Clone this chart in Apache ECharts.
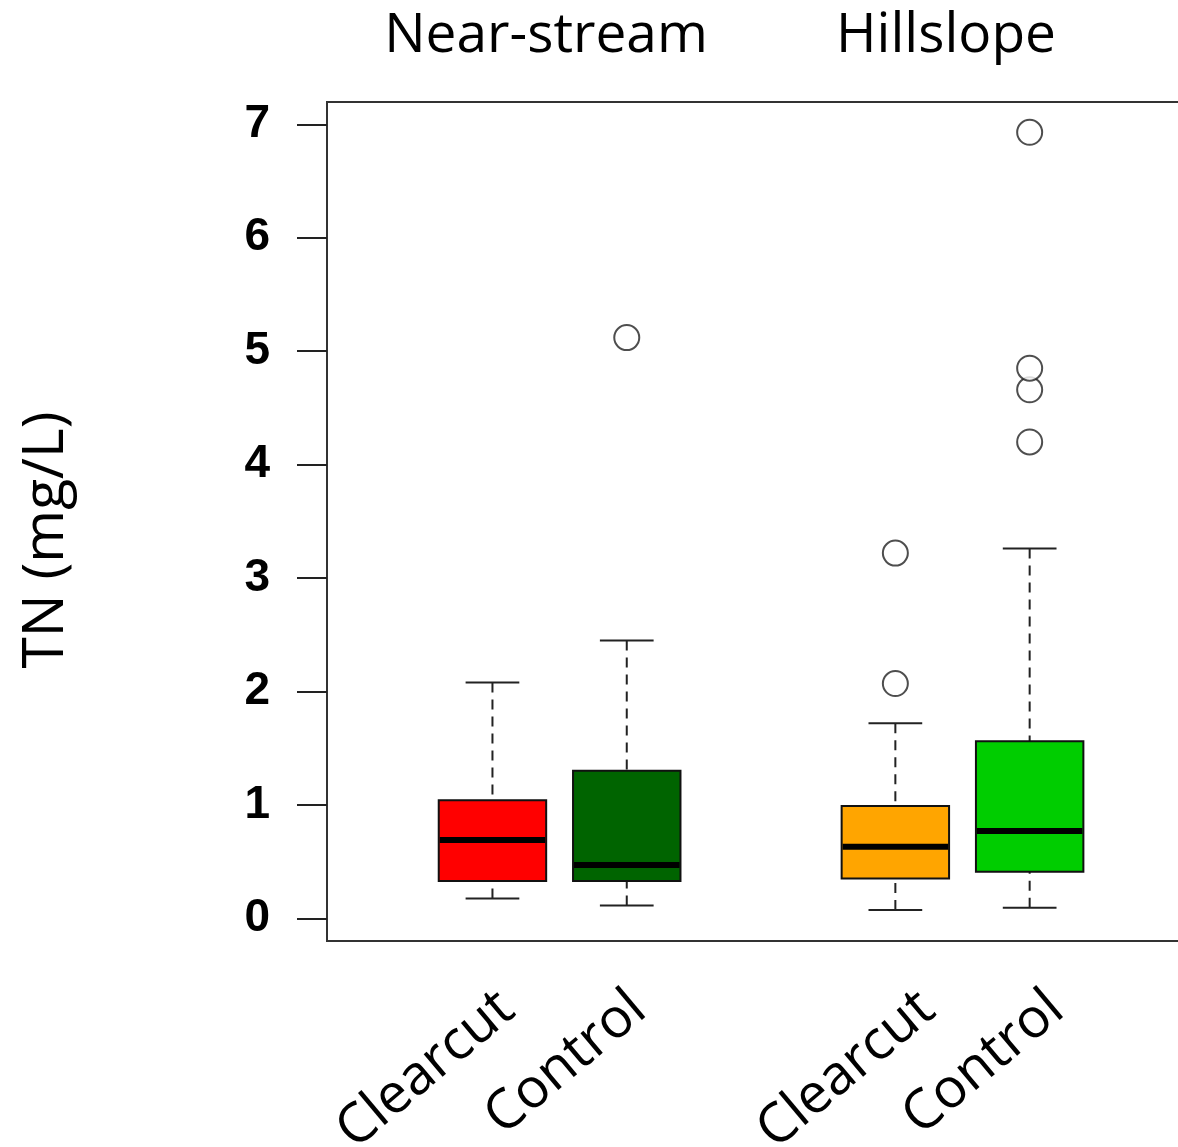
<!DOCTYPE html>
<html>
<head>
<meta charset="utf-8">
<title>TN boxplot</title>
<script src="https://cdn.jsdelivr.net/npm/echarts@6/dist/echarts.min.js"></script>
</head>
<body style="margin:0;background:#fff">
<div id="main" style="width:1178px;height:1147px;"></div>
<script>
// data
var groupNames = ['Near-stream', 'Hillslope'];
var boxLabels = ['Clearcut', 'Control', 'Clearcut', 'Control'];
var boxPositions = [1, 2, 4, 5];
var whiskerLow = [0.175, 0.112, 0.073, 0.094];
var quart1 = [0.33, 0.33, 0.35, 0.41];
var medians = [0.69, 0.47, 0.63, 0.77];
var quart3 = [1.04, 1.30, 0.99, 1.56];
var whiskerHigh = [2.08, 2.45, 1.72, 3.26];
var outliers = [[], [5.12], [2.07, 3.22], [4.20, 4.66, 4.85, 6.93]];
var yTicks = [0, 1, 2, 3, 4, 5, 6, 7];
var boxColors = ['#ff0000', '#006400', '#ffa500', '#00cd00'];

var boxWidth = 0.8;
var capWidth = 0.4;
// rotated labels sit a little right of each box centre
var labelShifts = [0.11, 0.09, 0.24, 0.20];
var labelAt = boxPositions.map(function (p, i) { return p + labelShifts[i]; });

var boxData = [];
var outlierData = [];
for (var i = 0; i < boxPositions.length; i++) {
    boxData.push([boxPositions[i], whiskerLow[i], quart1[i], medians[i], quart3[i], whiskerHigh[i]]);
    for (var j = 0; j < outliers[i].length; j++) {
        outlierData.push([boxPositions[i], outliers[i][j]]);
    }
}

function renderBox(params, api) {
    var x = api.value(0);
    var pLow = api.coord([x, api.value(1)]);
    var pQ1 = api.coord([x, api.value(2)]);
    var pMed = api.coord([x, api.value(3)]);
    var pQ3 = api.coord([x, api.value(4)]);
    var pHigh = api.coord([x, api.value(5)]);
    var halfBox = api.size([boxWidth, 0])[0] / 2;
    var halfCap = api.size([capWidth, 0])[0] / 2;
    var cx = pLow[0];
    var dash = {stroke: '#222', lineWidth: 2, lineDash: [10, 7]};
    var solid = {stroke: '#222', lineWidth: 2};
    return {
        type: 'group',
        children: [
            {type: 'line', shape: {x1: cx, y1: pHigh[1], x2: cx, y2: pQ3[1]}, style: dash},
            {type: 'line', shape: {x1: cx, y1: pLow[1], x2: cx, y2: pQ1[1]}, style: dash},
            {type: 'line', shape: {x1: cx - halfCap, y1: pHigh[1], x2: cx + halfCap, y2: pHigh[1]}, style: solid},
            {type: 'line', shape: {x1: cx - halfCap, y1: pLow[1], x2: cx + halfCap, y2: pLow[1]}, style: solid},
            {type: 'rect', shape: {x: cx - halfBox, y: pQ3[1], width: halfBox * 2, height: pQ1[1] - pQ3[1]},
                style: {fill: boxColors[params.dataIndex], stroke: '#111', lineWidth: 2}},
            {type: 'line', shape: {x1: cx - halfBox + 1, y1: pMed[1], x2: cx + halfBox - 1, y2: pMed[1]},
                style: {stroke: '#000', lineWidth: 6}}
        ]
    };
}

var myChart = echarts.init(document.getElementById('main'));

myChart.setOption({
    backgroundColor: '#fff',
    animation: false,
    grid: {
        left: 327, top: 102, right: -10, bottom: 206,
        outerBoundsMode: 'none',
        containLabel: false,
        show: true, borderColor: '#333', borderWidth: 2
    },
    graphic: [
        {type: 'text', x: 546, y: 36, style: {text: groupNames[0], fontFamily: 'Open Sans', fontSize: 55, fill: '#000', align: 'center', verticalAlign: 'middle'}},
        {type: 'text', x: 946, y: 36, style: {text: groupNames[1], fontFamily: 'Open Sans', fontSize: 55, fill: '#000', align: 'center', verticalAlign: 'middle'}},
        {type: 'text', x: 47, y: 540, rotation: Math.PI / 2,
            style: {text: 'TN (mg/L)', fontFamily: 'Open Sans', fontSize: 57, fill: '#000', align: 'center', verticalAlign: 'middle'}}
    ],
    xAxis: {
        type: 'value',
        min: -0.232,
        max: 6.179,
        axisLine: {show: false, onZero: false},
        axisTick: {show: false},
        splitLine: {show: false},
        axisLabel: {
            customValues: labelAt,
            formatter: function (v) {
                var k = labelAt.indexOf(v);
                return k >= 0 ? boxLabels[k] : '';
            },
            rotate: 40,
            margin: 61,
            fontFamily: 'Open Sans',
            fontSize: 55,
            color: '#000'
        }
    },
    yAxis: {
        type: 'value',
        min: -0.2,
        max: 7.197,
        axisLine: {show: false, onZero: false},
        splitLine: {show: false},
        axisTick: {
            show: true,
            customValues: yTicks,
            length: 30,
            lineStyle: {color: '#222', width: 2}
        },
        axisLabel: {
            customValues: yTicks,
            margin: 57,
            fontFamily: 'Liberation Sans',
            fontWeight: 'bold',
            fontSize: 46,
            color: '#000'
        }
    },
    series: [
        {
            type: 'custom',
            renderItem: renderBox,
            encode: {x: 0, y: [1, 2, 3, 4, 5]},
            data: boxData,
            z: 2
        },
        {
            type: 'scatter',
            symbol: 'circle',
            symbolSize: 25,
            itemStyle: {color: '#fff', borderColor: '#222', borderWidth: 2},
            data: outlierData,
            z: 3
        }
    ]
});
</script>
</body>
</html>
